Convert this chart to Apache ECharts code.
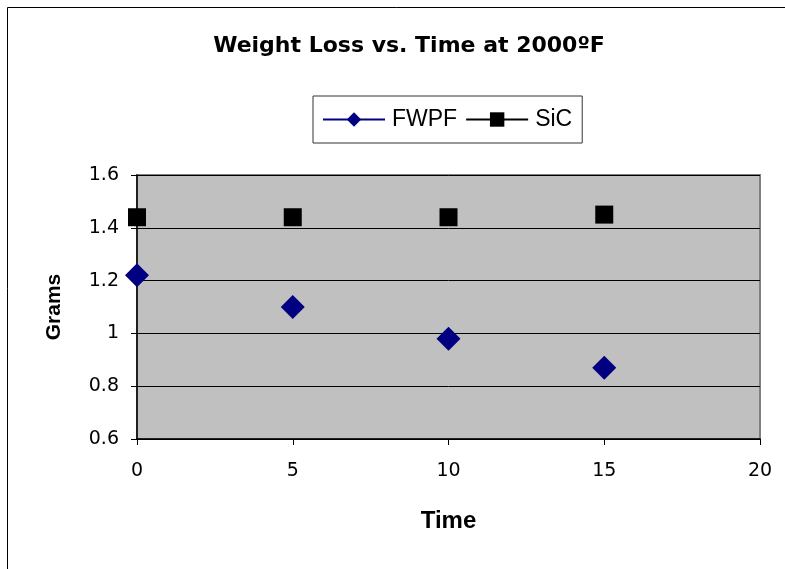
<!DOCTYPE html>
<html>
<head>
<meta charset="utf-8">
<script src="https://cdn.jsdelivr.net/npm/echarts@6/dist/echarts.min.js"></script>
<style>
  html, body { margin: 0; padding: 0; background: #fff; }
  #chart { width: 785px; height: 569px; }
</style>
</head>
<body>
<div id="chart"></div>
<script>
const timeValues = [0, 5, 10, 15];
const fwpfValues = [1.22, 1.10, 0.98, 0.87];
const sicValues = [1.44, 1.44, 1.44, 1.45];
const xTicks = [0, 5, 10, 15, 20];
const yTicks = [0.6, 0.8, 1, 1.2, 1.4, 1.6];

const arial = '"Liberation Sans", Arial, sans-serif';
const dejavu = '"DejaVu Sans", sans-serif';
const chart = echarts.init(document.getElementById('chart'));

const pairs = (vals) => timeValues.map((t, i) => [t, vals[i]]);

const option = {
  backgroundColor: '#fff',
  animation: false,
  title: {
    text: 'Weight Loss vs. Time at 2000ºF',
    left: 404,
    top: 30,
    textAlign: 'center',
    textStyle: {fontFamily: dejavu, fontSize: 22, fontWeight: 'bold', color: '#000'}
  },
  graphic: [{
    type: 'rect',
    shape: {x: 7.5, y: 7.5, width: 820, height: 620},
    style: {fill: 'none', stroke: '#000', lineWidth: 1},
    silent: true
  }],
  legend: {
    left: 313,
    top: 96,
    padding: [12, 10, 12, 9],
    itemWidth: 62,
    itemHeight: 18,
    itemGap: 8,
    borderColor: '#333',
    borderWidth: 1,
    backgroundColor: '#fff',
    lineStyle: {opacity: 1, width: 2},
    textStyle: {fontFamily: arial, fontSize: 23, color: '#000', padding: [0, 0, 0, 2]},
    data: ['FWPF', 'SiC']
  },
  grid: {
    left: 137,
    right: 25,
    top: 175,
    bottom: 130,
    show: true,
    backgroundColor: '#c0c0c0',
    borderColor: '#808080',
    borderWidth: 2
  },
  xAxis: {
    type: 'value',
    min: xTicks[0],
    max: xTicks[xTicks.length - 1],
    interval: 5,
    name: 'Time',
    nameLocation: 'middle',
    nameGap: 70,
    nameTextStyle: {fontFamily: arial, fontSize: 24, fontWeight: 'bold', color: '#000'},
    axisLine: {show: true, lineStyle: {color: '#000', width: 1.5}},
    axisTick: {show: true, inside: false, length: 6, lineStyle: {color: '#000'}},
    axisLabel: {fontFamily: dejavu, fontSize: 19, color: '#000', margin: 23},
    splitLine: {show: false}
  },
  yAxis: {
    type: 'value',
    min: yTicks[0],
    max: yTicks[yTicks.length - 1],
    interval: 0.2,
    name: 'Grams',
    nameLocation: 'middle',
    nameGap: 72,
    nameTextStyle: {fontFamily: arial, fontSize: 21, fontWeight: 'bold', color: '#000'},
    axisLine: {show: true, lineStyle: {color: '#000', width: 1.5}},
    axisTick: {show: true, inside: false, length: 6, lineStyle: {color: '#000'}},
    axisLabel: {
      fontFamily: dejavu, fontSize: 19, color: '#000', margin: 18,
      formatter: (v) => String(Math.round(v * 10) / 10)
    },
    splitLine: {show: true, lineStyle: {color: '#000', width: 1}}
  },
  series: [
    {
      name: 'FWPF',
      type: 'line',
      data: pairs(fwpfValues),
      symbol: 'diamond',
      symbolSize: 24,
      itemStyle: {color: '#000080'},
      lineStyle: {color: '#000080', width: 2, opacity: 0}
    },
    {
      name: 'SiC',
      type: 'line',
      data: pairs(sicValues),
      symbol: 'rect',
      symbolSize: 18,
      itemStyle: {color: '#000'},
      lineStyle: {color: '#000', width: 2, opacity: 0}
    }
  ]
};
chart.setOption(option);
</script>
</body>
</html>
